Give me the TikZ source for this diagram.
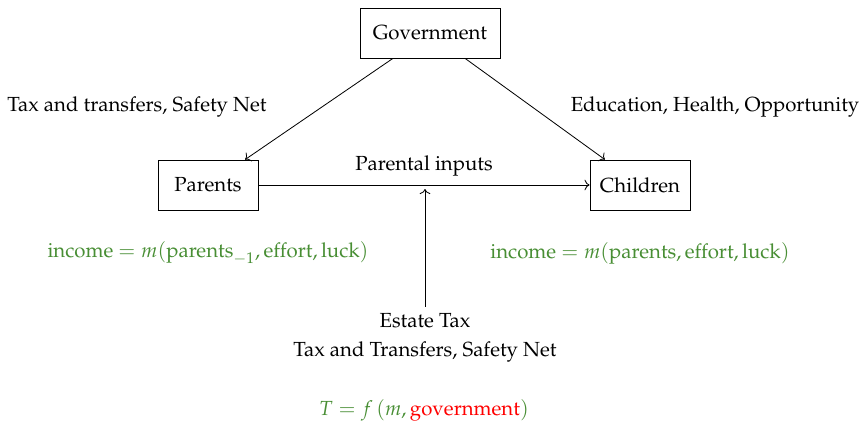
\documentclass[tikz,border=0pt]{standalone}
\usepackage[T1]{fontenc}
\usepackage{mathpazo}
\usetikzlibrary{arrows.meta}
\definecolor{eqgreen}{RGB}{72,142,52}
\begin{document}
\begin{tikzpicture}[x=0.49pt,y=-0.49pt,
  box/.style={draw,line width=0.4pt,minimum height=24.5pt,inner sep=0pt},
  conn/.style={->,line width=0.4pt},
  lbl/.style={inner sep=0pt,font=\normalsize},
  eq/.style={inner sep=0pt,text=eqgreen}]
\useasboundingbox (0,0) rectangle (861,422);
\node[box,minimum width=68.6pt] (gov) at (430,33) {Government};
\node[box,minimum width=49pt] (par) at (208,185) {Parents};
\node[box,minimum width=49pt] (chi) at (640,185) {Children};
\draw[conn] (gov) -- (par);
\draw[conn] (gov) -- (chi);
\draw[conn] (par) -- (chi) node[pos=0.5,above=4pt,lbl] (pin) {Parental inputs};
\node[lbl] (tt) at (137,107) {Tax and transfers, Safety Net};
\node[lbl] (ed) at (715,107) {Education, Health, Opportunity};
\node[lbl,align=center,anchor=north] (est) at (425,313) {Estate Tax\\[2pt]Tax and Transfers, Safety Net};
\coordinate (pi) at (425,189);
\draw[conn] ([yshift=3pt]est.north) -- (pi);
\node[eq] (eq1) at (208,253) {income $=m(\mathrm{parents}_{-1},\mathrm{effort},\mathrm{luck})$};
\node[eq] (eq2) at (640,253) {income $=m(\mathrm{parents},\mathrm{effort},\mathrm{luck})$};
\node[eq] (eqT) at (424,410) {$T=f\,(m,\textcolor{red}{\mathrm{government}})$};
\end{tikzpicture}
\end{document}
